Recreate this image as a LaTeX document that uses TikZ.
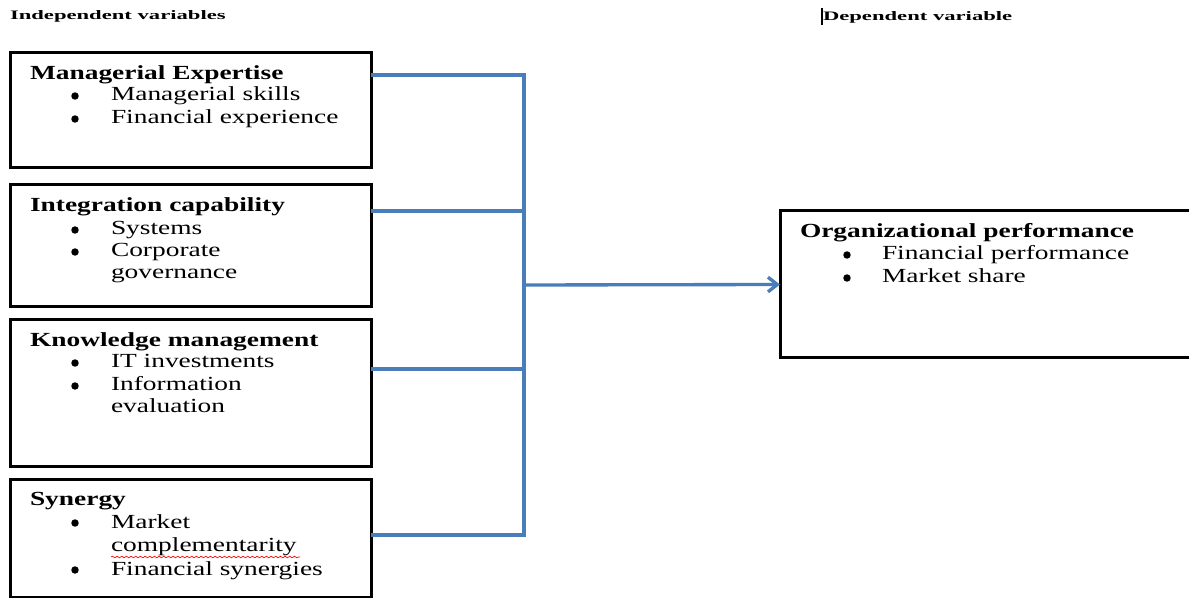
\documentclass[tikz,border=0pt]{standalone}
\usepackage{fontspec}
\setmainfont{Liberation Serif}
\newfontfamily\bodyfont[FakeStretch=1.37]{Liberation Serif}
\newfontfamily\headfont[FakeStretch=1.75]{Liberation Serif}
\usetikzlibrary{arrows.meta,decorations.pathmorphing}
\definecolor{linkblue}{RGB}{74,126,187}
\tikzset{
  varbox/.style={draw=black, line width=2.25pt, anchor=north west, minimum width=270.75pt, inner sep=0pt, outer sep=0pt},
  txt/.style={anchor=base west, inner sep=0pt, outer sep=0pt, font=\bodyfont\fontsize{15}{15}\selectfont},
  ttl/.style={txt, font=\bodyfont\bfseries\fontsize{15}{15}\selectfont},
  bul/.style={circle, fill=black, inner sep=0pt, outer sep=0pt, minimum size=5.6pt},
  hdr/.style={anchor=base west, inner sep=0pt, outer sep=0pt, font=\headfont\bfseries\fontsize{9.7}{9.7}\selectfont},
  link/.style={draw=linkblue, line width=2.5pt},
}
\begin{document}
\begin{tikzpicture}[x=0.75pt,y=-0.75pt]
\useasboundingbox (0,0) rectangle (1189,598);
\fill[white] (0,0) rectangle (1189,598);

% headers
\node[hdr] (hin) at (10,20) {Independent variables};
\node[hdr] (hdep) at (823,21) {Dependent variable};
\draw[line width=0.9pt] (822,8) -- (822,25);

% boxes
\node[varbox, minimum height=86.25pt] (b1) at (10,53) {};
\node[varbox, minimum height=91.5pt] (b2) at (10,185) {};
\node[varbox, minimum height=110.25pt] (b3) at (10,320) {};
\node[varbox, minimum height=87.75pt] (b4) at (10,480) {};
\node[varbox, minimum width=315pt, minimum height=110.25pt] (ob) at (780,211) {};

% box 1
\node[ttl] (t1) at (30,80) {Managerial Expertise};
\node[bul] (b1a) at (75,96) {};
\node[txt] (i1a) at (111,101) {Managerial skills};
\node[bul] (b1b) at (75,119) {};
\node[txt] (i1b) at (111,124) {Financial experience};

% box 2
\node[ttl] (t2) at (30,212) {Integration capability};
\node[bul] (b2a) at (75,230) {};
\node[txt] (i2a) at (111,235) {Systems};
\node[bul] (b2b) at (75,252) {};
\node[txt] (i2b) at (111,257) {Corporate};
\node[txt] (i2c) at (111,279) {governance};

% box 3
\node[ttl] (t3) at (30,347) {Knowledge management};
\node[bul] (b3a) at (75,363) {};
\node[txt] (i3a) at (111,368) {IT investments};
\node[bul] (b3b) at (75,386) {};
\node[txt] (i3b) at (111,391) {Information};
\node[txt] (i3c) at (111,413) {evaluation};

% box 4
\node[ttl] (t4) at (30,505) {Synergy};
\node[bul] (b4a) at (75,523) {};
\node[txt] (i4a) at (111,528) {Market};
\node[txt] (i4b) at (111,551) {complementarity};
\node[bul] (b4b) at (75,570) {};
\node[txt] (i4c) at (111,575) {Financial synergies};
\draw[red, line width=0.5pt, decorate, decoration={snake, segment length=3.5pt, amplitude=0.6pt}] (i4b.base west) ++(0,6) -- ++(189,0);

% outcome box
\node[ttl] (to) at (800,238) {Organizational performance};
\node[bul] (boa) at (847,255) {};
\node[txt] (ioa) at (882,260) {Financial performance};
\node[bul] (bob) at (847,278) {};
\node[txt] (iob) at (882,283) {Market share};

% connectors
\coordinate (j1) at (524,75);
\coordinate (j2) at (524,211);
\coordinate (j3) at (524,369);
\coordinate (j4) at (524,535);
\coordinate (jm) at (524,285);
\draw[link, line join=miter] ([yshift=-16.5pt]b1.north east) -- (j1) -- (j4) -- ([yshift=-41.25pt]b4.north east);
\draw[link] ([yshift=-19.5pt]b2.north east) -- (j2);
\draw[link] ([yshift=-36.75pt]b3.north east) -- (j3);
\draw[link, -{Straight Barb[length=7pt, width=11pt, line width=2.5pt]}] (jm) -- (ob.west);
\end{tikzpicture}
\end{document}
